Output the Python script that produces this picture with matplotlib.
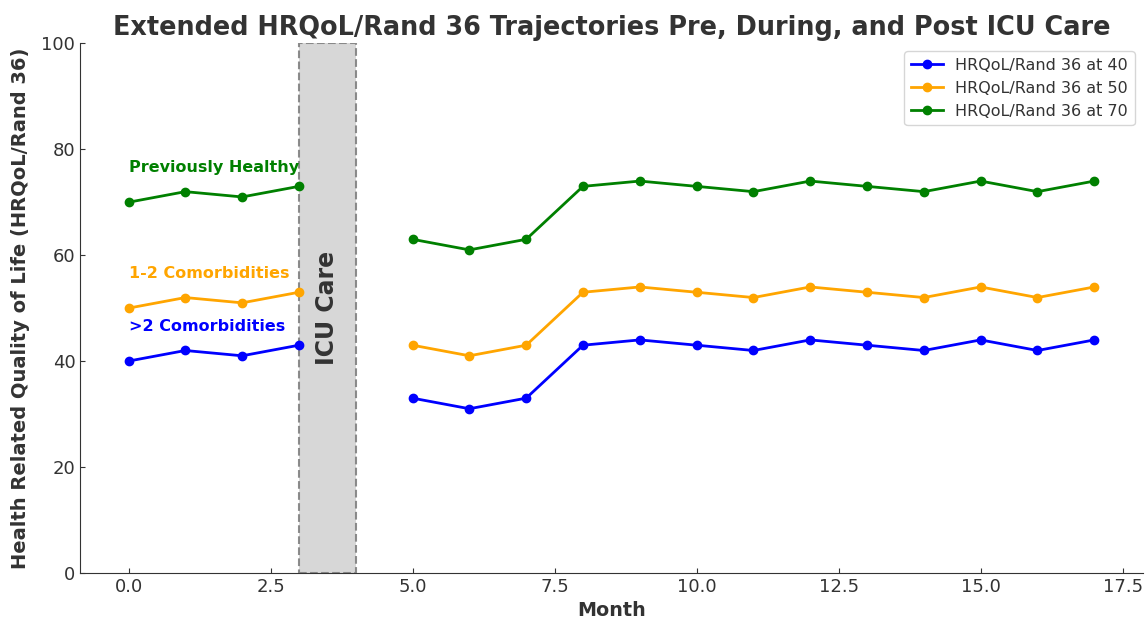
import matplotlib
matplotlib.use('Agg')
import numpy as np
from matplotlib import pyplot as plt

# months before and after the ICU stay
pre_months = [0, 1, 2, 3]
post_months = [5, 6, 7, 8, 9, 10, 11, 12, 13, 14, 15, 16, 17]

# HRQoL values per group
pre_40 = [40, 42, 41, 43]
post_40 = [33, 31, 33, 43, 44, 43, 42, 44, 43, 42, 44, 42, 44]
pre_50 = [50, 52, 51, 53]
post_50 = [43, 41, 43, 53, 54, 53, 52, 54, 53, 52, 54, 52, 54]
pre_70 = [70, 72, 71, 73]
post_70 = [63, 61, 63, 73, 74, 73, 72, 74, 73, 72, 74, 72, 74]

dark = '#333333'
plt.rcParams['text.color'] = dark
plt.rcParams['axes.labelcolor'] = dark
plt.rcParams['xtick.color'] = dark
plt.rcParams['ytick.color'] = dark
plt.rcParams['axes.edgecolor'] = dark

fig, ax = plt.subplots(figsize=(11.46, 6.2), dpi=100)
fig.subplots_adjust(left=0.07, right=0.997, top=0.93, bottom=0.076)

ax.plot(pre_months, pre_40, color='blue', marker='o', lw=2, label='HRQoL/Rand 36 at 40')
ax.plot(post_months, post_40, color='blue', marker='o', lw=2)
ax.plot(pre_months, pre_50, color='orange', marker='o', lw=2, label='HRQoL/Rand 36 at 50')
ax.plot(post_months, post_50, color='orange', marker='o', lw=2)
ax.plot(pre_months, pre_70, color='green', marker='o', lw=2, label='HRQoL/Rand 36 at 70')
ax.plot(post_months, post_70, color='green', marker='o', lw=2)

#ICU band
ax.axvspan(3, 4, facecolor='lightgray', edgecolor='gray', linestyle='--', lw=1.5, alpha=0.9, zorder=0)
ax.text(3.5, 50, 'ICU Care', rotation=90, ha='center', va='center', fontsize=17, fontweight='bold', color=dark)

ax.text(0, 76.5, 'Previously Healthy', color='green', fontsize=11.5, fontweight='bold', va='center')
ax.text(0, 56.5, '1-2 Comorbidities', color='orange', fontsize=11.5, fontweight='bold', va='center')
ax.text(0, 46.5, '>2 Comorbidities', color='blue', fontsize=11.5, fontweight='bold', va='center')

ax.set_ylim(0, 100)
ax.set_title('Extended HRQoL/Rand 36 Trajectories Pre, During, and Post ICU Care', fontsize=18.4, fontweight='bold')
ax.set_xlabel('Month', fontsize=13.8, fontweight='bold')
ax.set_ylabel('Health Related Quality of Life (HRQoL/Rand 36)', fontsize=14, fontweight='bold', labelpad=8)
ax.tick_params(direction='in', labelsize=13)
ax.spines['top'].set_visible(False)
ax.spines['right'].set_visible(False)
ax.legend(loc='upper right', fontsize=11.5)

plt.savefig('out.png')
